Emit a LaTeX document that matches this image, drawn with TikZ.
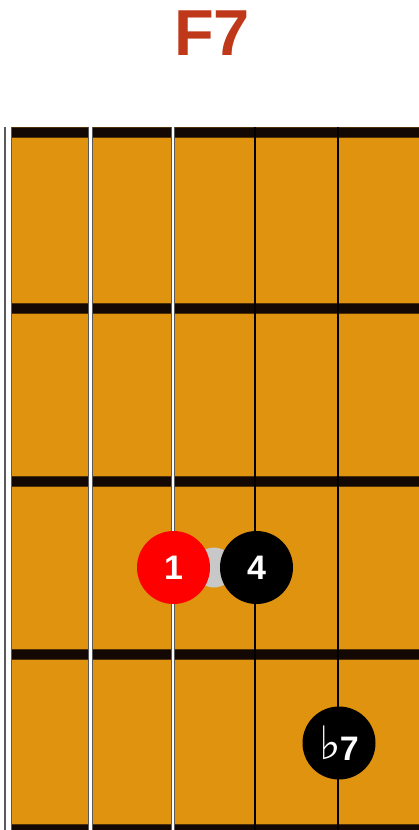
\documentclass[tikz,border=0pt]{standalone}
\usepackage{fontspec}
\setmainfont{Liberation Sans}
\newfontfamily\symfont{DejaVu Sans}
\definecolor{board}{HTML}{E0930F}
\definecolor{fretc}{HTML}{140805}
\definecolor{titlec}{HTML}{C0381A}
\definecolor{redc}{HTML}{FF0000}
\definecolor{grayc}{HTML}{C8C8C8}
\tikzset{
  fretbar/.style={fill=fretc, draw=fretc!70!board, line width=0.6pt},
  dotnode/.style={circle, minimum size=73pt, inner sep=0pt, text=white, font=\fontsize{34}{34}\selectfont\bfseries},
}
\begin{document}
\begin{tikzpicture}[x=1pt,y=-1pt]
\useasboundingbox (0,0) rectangle (419,830);
\fill[white] (0,0) rectangle (419,830);
% title
\node[text=titlec, font=\fontsize{65}{65}\selectfont\bfseries] (title) at (212,33) {F7};
% board
\fill[board] (11,127) rectangle (419,830);
\draw[gray, line width=0.8pt] (11,830) -- (11,127) -- (419,127);
% frets
\foreach \y in {127,303,476,649,824} {
  \filldraw[fretbar] (11,\y) rectangle (420,\y+10);
}
% strings
\draw[gray!70!black, line width=7.5pt] (8,127) -- (8,831);
\draw[white, line width=5pt] (8,127) -- (8,831);
\draw[gray!70!black, line width=5pt] (90.4,127) -- (90.4,831);
\draw[white, line width=3pt] (90.4,127) -- (90.4,831);
\draw[gray!70!black, line width=3.5pt] (172.8,127) -- (172.8,831);
\draw[white, line width=1.6pt] (172.8,127) -- (172.8,831);
\draw[black, line width=2pt] (255.2,127) -- (255.2,831);
\draw[black, line width=2pt] (337.6,127) -- (337.6,831);
% dots
\node[circle, fill=grayc, minimum size=40pt, inner sep=0pt] (link) at (214,567.5) {};
\node[dotnode, fill=redc] (root) at (173.5,567.5) {1};
\node[dotnode, fill=black] (four) at (256.5,567.5) {4};
\node[dotnode, fill=black, font=\fontsize{34}{34}\selectfont\bfseries] (flat7) at (339,743) {{\symfont\bfseries\fontsize{46}{46}\selectfont\raisebox{1pt}{♭}}\kern-1pt 7};
\end{tikzpicture}
\end{document}
